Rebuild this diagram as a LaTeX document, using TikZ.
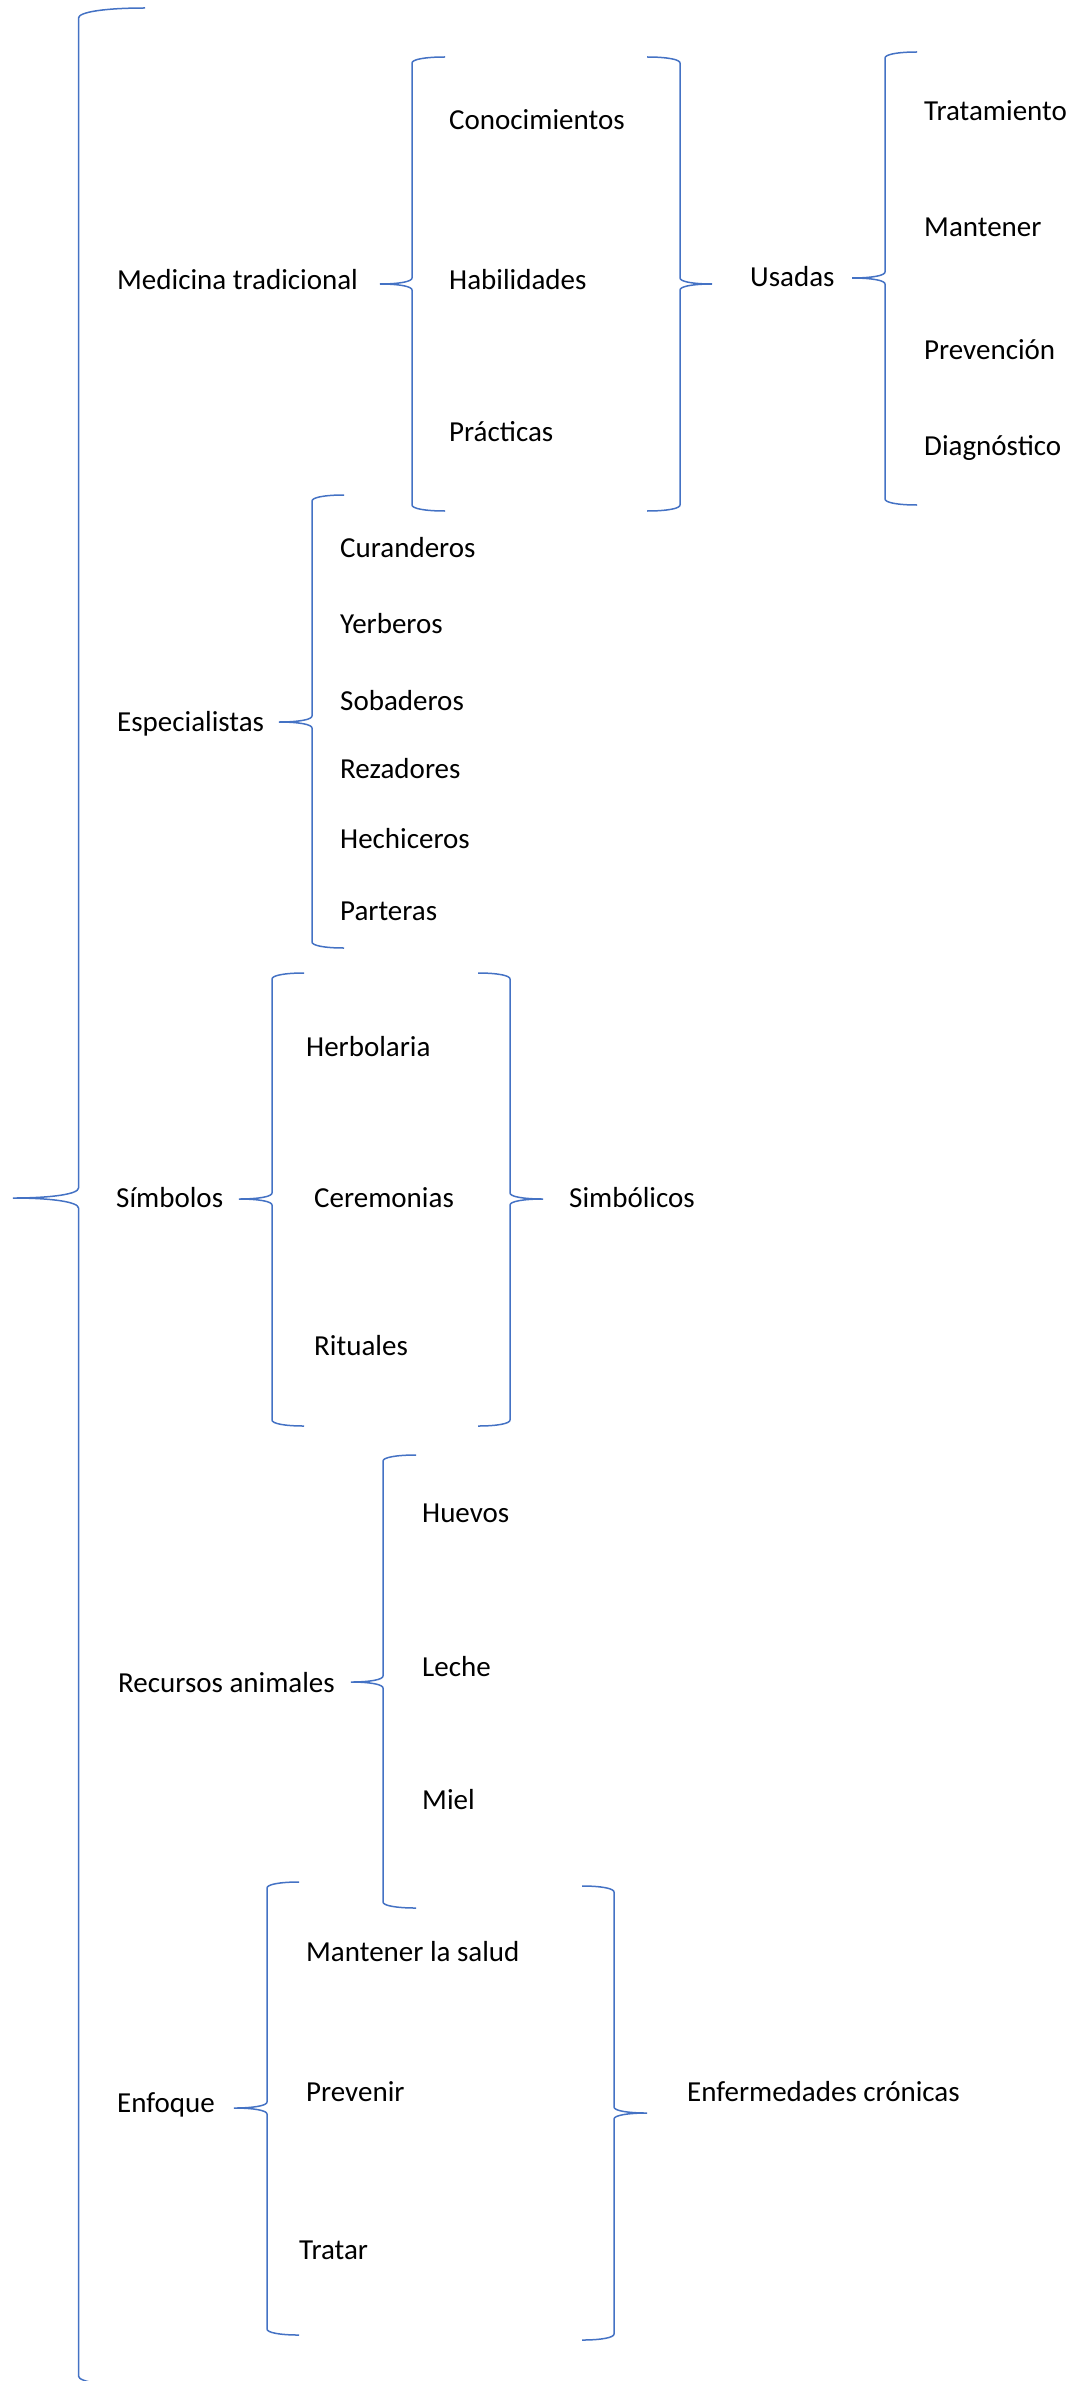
\documentclass[tikz,border=0pt]{standalone}
\usepackage{fontspec}
\setmainfont{Carlito}
\usepackage{tikz}
\usetikzlibrary{positioning}
\definecolor{llaveazul}{HTML}{4472C4}
\tikzstyle{lbl}=[anchor=base west,inner sep=0pt,font=\fontsize{29}{34}\selectfont]
\tikzstyle{llaveS}=[draw=llaveazul,line width=1.5pt]
\newcommand{\llave}[8]{\coordinate (#1) at (#6,#7);
  \draw[llaveS] (#5,#3) .. controls ({#5-0.6*(#5-#2)},#3) and (#2,{#3+0.4*#8}) .. (#2,{#3+#8})
    -- (#2,{#7-#8}) .. controls (#2,{#7-0.4*#8}) and ({#6+0.6*(#2-#6)},#7) .. (#1)
    .. controls ({#6+0.6*(#2-#6)},#7) and (#2,{#7+0.4*#8}) .. (#2,{#7+#8})
    -- (#2,{#4-#8}) .. controls (#2,{#4-0.4*#8}) and ({#5-0.6*(#5-#2)},#4) .. (#5,#4);}
\begin{document}
\begin{tikzpicture}[x=1pt,y=-1pt]
	\useasboundingbox (0,0) rectangle (1079,2381);

	\llave{todo}{78.5}{8}{2386}{145}{13}{1198}{10};

	\node[lbl] (med) at (117,289.5) {Medicina tradicional};
	\llave{medL}{412}{57}{511}{445}{380}{284}{6};
	\node[lbl] (cono) at (449,129.5) {Conocimientos};
	\node[lbl] (habi) at (449,289.5) {Habilidades};
	\node[lbl] (prac) at (449,441.5) {Prácticas};
	\llave{medR}{680}{57}{511}{647}{712}{284}{6};
	\node[lbl] (usa) at (750,286.5) {Usadas};
	\llave{usaL}{885}{52}{505}{917}{852}{278}{6};
	\node[lbl] (trat) at (924,120.5) {Tratamiento};
	\node[lbl] (mant) at (924,236.5) {Mantener};
	\node[lbl] (prev) at (924,359.5) {Prevención};
	\node[lbl] (diag) at (924,455.5) {Diagnóstico};

	\node[lbl] (esp) at (117,731.5) {Especialistas};
	\llave{espL}{312}{495}{948}{344}{279}{722}{6};
	\node[lbl] (cur) at (340,557.5) {Curanderos};
	\node[lbl] (yer) at (340,633.5) {Yerberos};
	\node[lbl] (sob) at (340,710.5) {Sobaderos};
	\node[lbl] (rez) at (340,778.5) {Rezadores};
	\node[lbl] (hec) at (340,848.5) {Hechiceros};
	\node[lbl] (par) at (340,920.5) {Parteras};

	\node[lbl] (sim) at (116,1207.5) {Símbolos};
	\llave{simL}{272}{973}{1426}{304}{239}{1199}{6};
	\node[lbl] (herb) at (306,1056.5) {Herbolaria};
	\node[lbl] (cere) at (314,1207.5) {Ceremonias};
	\node[lbl] (ritu) at (314,1355.5) {Rituales};
	\llave{simR}{510}{973}{1426}{478}{543}{1199}{6};
	\node[lbl] (simb) at (569,1207.5) {Simbólicos};

	\node[lbl] (rec) at (118,1692.5) {Recursos animales};
	\llave{recL}{383}{1455}{1908}{416}{351}{1682}{6};
	\node[lbl] (huev) at (422,1522.5) {Huevos};
	\node[lbl] (lech) at (422,1676.5) {Leche};
	\node[lbl] (miel) at (422,1809.5) {Miel};

	\node[lbl] (enf) at (117,2112.5) {Enfoque};
	\llave{enfL}{267}{1882}{2335}{299}{234}{2108}{6};
	\node[lbl] (msal) at (306,1961.5) {Mantener la salud};
	\node[lbl] (pvir) at (306,2101.5) {Prevenir};
	\node[lbl] (ttar) at (299,2259.5) {Tratar};
	\llave{enfR}{614}{1886}{2340}{582}{647}{2113}{6};
	\node[lbl] (cron) at (687,2101.5) {Enfermedades crónicas};
\end{tikzpicture}
\end{document}
